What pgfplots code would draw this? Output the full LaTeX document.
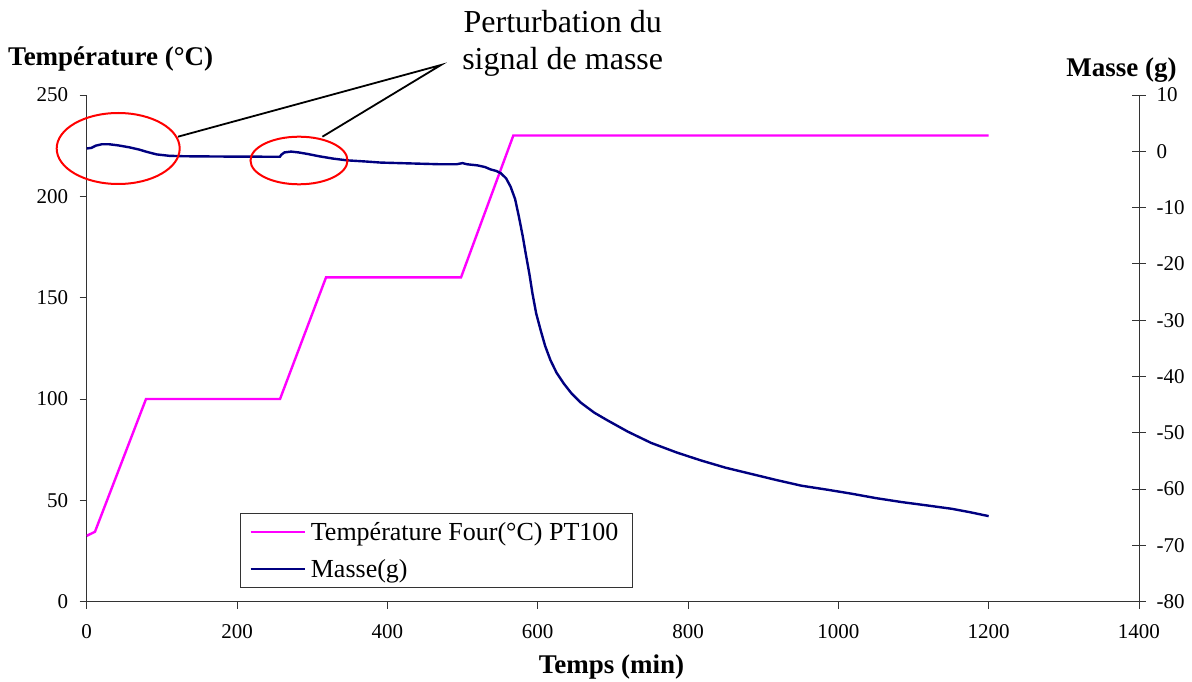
\documentclass[border=0pt]{standalone}
\usepackage{fontspec}
\setmainfont{Liberation Serif}
\usepackage{pgfplots}
\pgfplotsset{compat=1.18}
\definecolor{mag}{RGB}{255,0,255}
\definecolor{navyb}{RGB}{0,0,128}
\begin{document}
\begin{tikzpicture}
\useasboundingbox (-86.7pt,-79.3pt) rectangle (1105.3pt,601.7pt);
\pgfplotsset{every axis/.append style={scale only axis, width=1052.3pt, height=506.7pt,
  xmin=0, xmax=1400,
  /pgf/number format/assume math mode=true, /pgf/number format/1000 sep={},
  tick label style={font=\rmfamily\fontsize{21}{25}\selectfont},
  axis line style={black!80, line width=0.9pt},
  major tick style={black!80, line width=0.9pt}}}
\begin{axis}[axis x line*=bottom, axis y line*=left,
  ymin=0, ymax=250, xtick={0,200,...,1400}, ytick={0,50,...,250},
  xticklabel style={yshift=-12pt}, yticklabel style={xshift=-8pt},
  tick align=outside, major tick length=7pt]
\addplot[mag, line width=2.4pt] coordinates {
(0,32.5) (11,34.5) (78.9,100) (257.2,100) (318.4,160) (498,160) (567.6,230) (1200,230)};
\end{axis}
\begin{axis}[axis y line*=right, axis x line=none,
  ymin=-80, ymax=10, ytick={-80,-70,...,10},
  yticklabel style={xshift=7pt},
  tick align=center, major tick length=14pt,
  legend cell align=left,
  legend image code/.code={\draw[#1] (0pt,0pt) -- (54pt,0pt);},
  legend style={at={(axis description cs:0.1457,0.027)}, anchor=south west,
    draw=black!80, line width=0.9pt, font=\rmfamily\fontsize{26}{30}\selectfont,
    inner xsep=9pt, inner ysep=7pt, row sep=13pt,
    nodes={inner xsep=5pt}}]
\addlegendimage{mag, line width=2.4pt}
\addlegendentry{Température Four(°C) PT100}
\addplot[navyb, line width=2.4pt] coordinates {
(0,0.5)(6,0.6)(12,1.0)(20,1.25)(30,1.25)(42,1.05)(57,0.7)(70,0.3)(80,-0.1)(93,-0.55)
(110,-0.8)(130,-0.88)(180,-0.93)(257,-0.97)(259,-0.6)(263,-0.2)(272,-0.05)(282,-0.2)
(295,-0.5)(310,-0.9)(328,-1.3)(346,-1.6)(370,-1.8)(391,-2.0)(430,-2.15)(470,-2.3)
(492,-2.3)(500,-2.1)(506,-2.3)(520,-2.5)(530,-2.8)(537,-3.2)(545,-3.5)(551,-3.9)
(558,-4.8)(564,-6.3)(570,-8.5)(575,-11.6)(580,-15)(584,-18.1)(589,-21.8)(593,-25.2)
(598,-28.8)(604,-31.8)(610,-34.6)(617,-37.1)(625,-39.3)(635,-41.3)(645,-43.0)(657,-44.6)
(675,-46.4)(693,-47.8)(720,-49.8)(751,-51.8)(785,-53.5)(817,-54.9)(850,-56.2)(884,-57.3)
(918,-58.4)(951,-59.4)(985,-60.1)(1017,-60.8)(1050,-61.6)(1084,-62.3)(1118,-62.9)
(1151,-63.5)(1175,-64.1)(1200,-64.8)};
\addlegendentry{Masse(g)}
\end{axis}
% annotations
\draw[red, line width=2pt] (31.5pt,453.2pt) ellipse [x radius=61.5pt, y radius=35.5pt];
\draw[red, line width=2pt] (212.3pt,441.2pt) ellipse [x radius=48.5pt, y radius=23.8pt];
\draw[black, line width=1.8pt] (91.3pt,465pt) -- (354.3pt,536.7pt) -- (235.7pt,465pt);
\node[anchor=base, font=\fontsize{32}{38}\selectfont, inner sep=0pt] at (476pt,568.7pt) {Perturbation du};
\node[anchor=base, font=\fontsize{32}{38}\selectfont, inner sep=0pt] at (476pt,531.7pt) {signal de masse};
\node[anchor=base west, font=\bfseries\fontsize{27}{32}\selectfont, inner sep=0pt] at (-78.7pt,535.7pt) {Température (°C)};
\node[anchor=base east, font=\bfseries\fontsize{27}{32}\selectfont, inner sep=0pt] at (1090pt,525pt) {Masse (g)};
\node[anchor=base, font=\bfseries\fontsize{27}{32}\selectfont, inner sep=0pt] at (524.8pt,-71.6pt) {Temps (min)};
\end{tikzpicture}
\end{document}
